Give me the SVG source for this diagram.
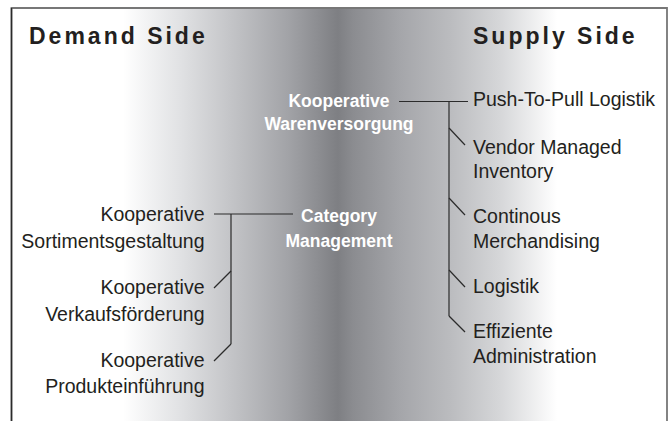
<svg xmlns="http://www.w3.org/2000/svg" width="672" height="421" viewBox="0 0 672 421">
  <style>
    .head { font-family: "Liberation Sans", Arial, sans-serif; font-weight: bold; font-size: 23px; letter-spacing: 3px; fill: #231f20; }
    .item { font-family: "Liberation Sans", Arial, sans-serif; font-size: 19.5px; fill: #231f20; }
    .left { text-anchor: end; }
    .hub { font-family: "Liberation Sans", Arial, sans-serif; font-weight: bold; font-size: 17.5px; fill: #ffffff; text-anchor: middle; }
    .link { fill: none; stroke: #2b2b2b; stroke-width: 1.2; }
  </style>
  <defs>
    <linearGradient id="band" gradientUnits="userSpaceOnUse" x1="123" y1="0" x2="557" y2="0">
      <stop offset="0" stop-color="#ffffff"/>
      <stop offset="0.13" stop-color="#e1e2e4"/>
      <stop offset="0.25" stop-color="#c3c4c7"/>
      <stop offset="0.38" stop-color="#a2a3a7"/>
      <stop offset="0.495" stop-color="#7e7f83"/>
      <stop offset="0.53" stop-color="#8b8c90"/>
      <stop offset="0.64" stop-color="#a5a6aa"/>
      <stop offset="0.755" stop-color="#bbbcbf"/>
      <stop offset="0.87" stop-color="#d6d7d9"/>
      <stop offset="1" stop-color="#ffffff"/>
    </linearGradient>
  </defs>

  <!-- canvas and shaded middle band -->
  <rect x="0" y="0" width="672" height="421" fill="#ffffff"/>
  <rect x="123" y="8" width="434" height="413" fill="url(#band)"/>

  <!-- frame, open at the bottom -->
  <g id="frame">
    <path d="M11.5 421 V8 H667 V421" fill="none" stroke="#777777" stroke-width="1.8"/>
    <line x1="11.5" y1="8" x2="11.5" y2="421" stroke="#2b2b2b" stroke-width="1.4"/>
  </g>

  <g id="demand-side"><text class="head" x="29" y="43.5">Demand Side</text></g>
  <g id="supply-side"><text class="head" x="473" y="43.5">Supply Side</text></g>

  <!-- connectors -->
  <g id="connectors">
    <!-- Kooperative Warenversorgung tree -->
    <line class="link" x1="399" y1="101.5" x2="468" y2="101.5"/>
    <line class="link" x1="449" y1="101.5" x2="449" y2="316"/>
    <line class="link" x1="449" y1="128" x2="465" y2="145"/>
    <line class="link" x1="449" y1="198" x2="465" y2="215"/>
    <line class="link" x1="449" y1="270" x2="465" y2="287"/>
    <line class="link" x1="449" y1="316" x2="465" y2="332"/>
    <!-- Category Management tree -->
    <line class="link" x1="214" y1="214" x2="293" y2="214"/>
    <line class="link" x1="231" y1="214" x2="231" y2="344"/>
    <line class="link" x1="231" y1="271" x2="214" y2="288"/>
    <line class="link" x1="231" y1="344" x2="214" y2="361"/>
  </g>

  <!-- hubs -->
  <g id="kooperative-warenversorgung">
    <text class="hub" x="339" y="107">Kooperative</text>
    <text class="hub" x="339" y="129.5">Warenversorgung</text>
  </g>
  <g id="category-management">
    <text class="hub" x="339" y="221.5">Category</text>
    <text class="hub" x="339" y="247">Management</text>
  </g>

  <!-- supply side items -->
  <g id="push-to-pull-logistik"><text class="item" x="473" y="106">Push-To-Pull Logistik</text></g>
  <g id="vendor-managed-inventory">
    <text class="item" x="473" y="154">Vendor Managed</text>
    <text class="item" x="473" y="178">Inventory</text>
  </g>
  <g id="continous-merchandising">
    <text class="item" x="473" y="222.5">Continous</text>
    <text class="item" x="473" y="248">Merchandising</text>
  </g>
  <g id="logistik"><text class="item" x="473" y="293">Logistik</text></g>
  <g id="effiziente-administration">
    <text class="item" x="473" y="338">Effiziente</text>
    <text class="item" x="473" y="363">Administration</text>
  </g>

  <!-- demand side items -->
  <g id="kooperative-sortimentsgestaltung">
    <text class="item left" x="204.5" y="221">Kooperative</text>
    <text class="item left" x="204.5" y="248">Sortimentsgestaltung</text>
  </g>
  <g id="kooperative-verkaufsfoerderung">
    <text class="item left" x="204.5" y="294">Kooperative</text>
    <text class="item left" x="204.5" y="321">Verkaufsförderung</text>
  </g>
  <g id="kooperative-produkteinfuehrung">
    <text class="item left" x="204.5" y="367">Kooperative</text>
    <text class="item left" x="204.5" y="393">Produkteinführung</text>
  </g>
</svg>
